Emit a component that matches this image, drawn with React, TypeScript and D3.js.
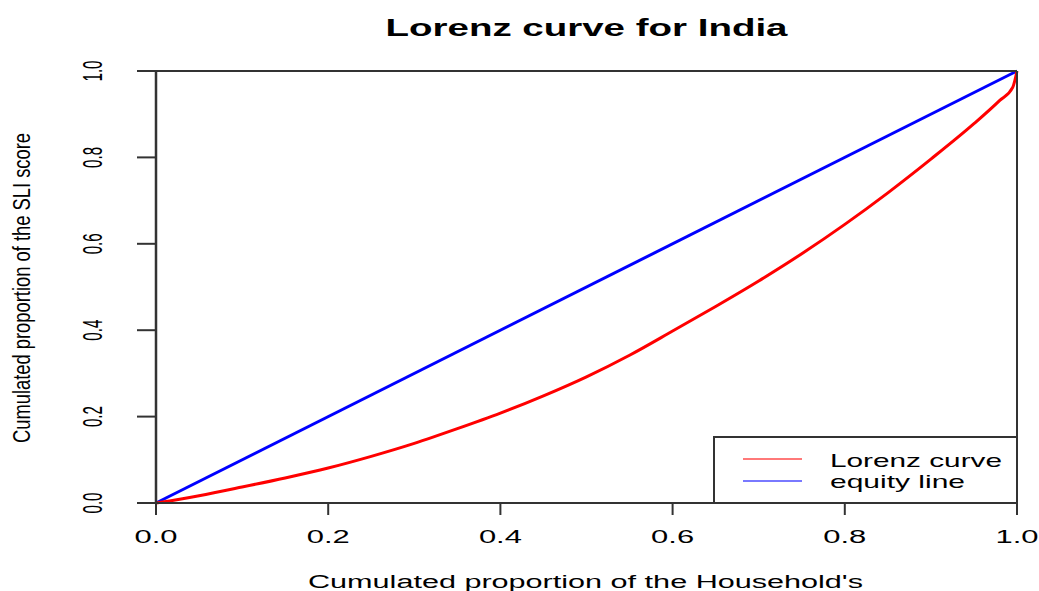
import React from "react";
import * as d3 from "d3";

// cumulated share of households (x) and SLI score (y)
const householdShare = [0, 0.05, 0.1, 0.15, 0.2, 0.25, 0.3, 0.35, 0.4, 0.45, 0.5, 0.55, 0.6, 0.65, 0.7, 0.75, 0.8, 0.85, 0.9, 0.95, 0.98, 0.995, 1.0];
const lorenzShare = [0, 0.017, 0.037, 0.058, 0.081, 0.108, 0.138, 0.172, 0.208, 0.248, 0.292, 0.342, 0.398, 0.455, 0.514, 0.577, 0.645, 0.718, 0.796, 0.878, 0.932, 0.962, 1.0];
const equityX = [0, 1];
const equityY = [0, 1];
const xTicks = ["0.0", "0.2", "0.4", "0.6", "0.8", "1.0"];
const yTicks = ["0.0", "0.2", "0.4", "0.6", "0.8", "1.0"];
const legendLabels = ["Lorenz curve", "equity line"];
const legendColors = ["#ff0000", "#0000ff"];

const FONT = "'Liberation Sans', Arial, sans-serif";

const App = () => {
  const width = 1039;
  const height = 591;
  const left = 156;
  const right = 1017;
  const top = 71;
  const bottom = 503;

  const x = d3.scaleLinear().domain([0, 1]).range([left, right]);
  const y = d3.scaleLinear().domain([0, 1]).range([bottom, top]);

  const line = d3
    .line<[number, number]>()
    .x((d) => x(d[0]))
    .y((d) => y(d[1]))
    .curve(d3.curveMonotoneX);

  const lorenz = householdShare.map((p, i) => [p, lorenzShare[i]] as [number, number]);
  const equity = equityX.map((p, i) => [p, equityY[i]] as [number, number]);

  const axisColor = "#333";

  return (
    <div style={{ position: "absolute", left: 0, top: 0 }}>
      <svg width={width} height={height} style={{ display: "block", background: "#fff" }}>
        {/* title */}
        <text
          x={(left + right) / 2}
          y={36}
          textAnchor="middle"
          fontFamily={FONT}
          fontWeight="bold"
          fontSize={23.7}
          textLength={402}
          lengthAdjust="spacingAndGlyphs"
          fill="#000"
        >
          Lorenz curve for India
        </text>

        {/* curves */}
        <path d={line(equity) || ""} fill="none" stroke="#0000ff" strokeWidth={3} />
        <path d={line(lorenz) || ""} fill="none" stroke="#ff0000" strokeWidth={3} />

        {/* frame: top and right */}
        <line x1={left} x2={right} y1={top} y2={top} stroke={axisColor} strokeWidth={2} />
        <line x1={right} x2={right} y1={top} y2={bottom} stroke={axisColor} strokeWidth={2} />

        {/* axes */}
        <line x1={left} x2={right} y1={bottom} y2={bottom} stroke={axisColor} strokeWidth={2} />
        <line x1={left} x2={left} y1={top} y2={bottom} stroke={axisColor} strokeWidth={2.5} />

        {xTicks.map((t) => (
          <g key={"x" + t}>
            <line x1={x(+t)} x2={x(+t)} y1={bottom} y2={bottom + 12} stroke={axisColor} strokeWidth={2} />
            <text
              x={x(+t)}
              y={543}
              textAnchor="middle"
              fontFamily={FONT}
              fontSize={18}
              textLength={43}
              lengthAdjust="spacingAndGlyphs"
              fill="#000"
            >
              {t}
            </text>
          </g>
        ))}

        {yTicks.map((t) => (
          <g key={"y" + t}>
            <line x1={left - 19} x2={left} y1={y(+t)} y2={y(+t)} stroke={axisColor} strokeWidth={2} />
            <text
              transform={`translate(102,${y(+t)}) rotate(-90)`}
              textAnchor="middle"
              fontFamily={FONT}
              fontSize={28}
              textLength={21}
              lengthAdjust="spacingAndGlyphs"
              fill="#000"
            >
              {t}
            </text>
          </g>
        ))}

        {/* axis titles */}
        <text
          x={308}
          y={588}
          fontFamily={FONT}
          fontSize={18}
          textLength={555}
          lengthAdjust="spacingAndGlyphs"
          fill="#000"
        >
          Cumulated proportion of the Household's
        </text>
        <text
          transform={`translate(30,${(top + bottom) / 2 + 1}) rotate(-90)`}
          textAnchor="middle"
          fontFamily={FONT}
          fontSize={23}
          textLength={310}
          lengthAdjust="spacingAndGlyphs"
          fill="#000"
        >
          Cumulated proportion of the SLI score
        </text>

        {/* legend */}
        <rect x={714} y={437} width={right - 714} height={bottom - 437} fill="#fff" stroke={axisColor} strokeWidth={2} />
        {legendLabels.map((lab, i) => (
          <g key={lab}>
            <line
              x1={743}
              x2={802}
              y1={459 + i * 22}
              y2={459 + i * 22}
              stroke={legendColors[i]}
              strokeOpacity={0.7}
              strokeWidth={1.5}
            />
            <text
              x={830}
              y={467 + i * 21}
              fontFamily={FONT}
              fontSize={19}
              textLength={i === 0 ? 172 : 135}
              lengthAdjust="spacingAndGlyphs"
              fill="#000"
            >
              {lab}
            </text>
          </g>
        ))}
      </svg>
    </div>
  );
};

export default App;
